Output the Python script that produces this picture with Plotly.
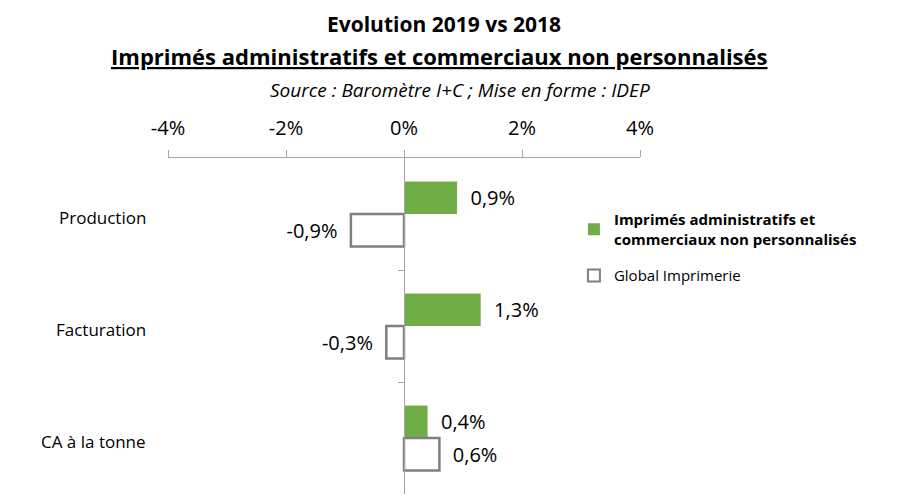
import plotly.graph_objects as go

categories = ["Production", "Facturation", "CA à la tonne"]
series_names = ["<b>Imprimés administratifs et<br>commerciaux non personnalisés</b>", "Global Imprimerie"]
imprimes = [0.9, 1.3, 0.4]
global_imp = [-0.9, -0.3, 0.6]
x_ticks = [-4, -2, 0, 2, 4]

FONT = "Open Sans"

def fmt(v):
    s = f"{v:.1f}%".replace(".", ",")
    return "  " + s if v >= 0 else s + "  "

ypos = list(range(len(categories)))

fig = go.Figure()
fig.add_trace(go.Bar(
    y=ypos, x=imprimes, orientation="h", name=series_names[0], legendgroup="a",
    marker=dict(color="#70AD47", line=dict(color="#70AD47", width=0)),
    text=[fmt(v) for v in imprimes], textposition="outside",
    textfont=dict(size=20, color="#000000", family=FONT), cliponaxis=False,
))
fig.add_trace(go.Bar(
    y=ypos, x=global_imp, orientation="h", name=series_names[1], legendgroup="b",
    marker=dict(color="#FFFFFF", line=dict(color="#7F7F7F", width=2.5)),
    text=[fmt(v) for v in global_imp], textposition="outside",
    textfont=dict(size=20, color="#000000", family=FONT), cliponaxis=False,
))

fig.update_layout(
    width=891, height=488,
    margin=dict(l=160, r=259, t=150, b=2),
    plot_bgcolor="white", paper_bgcolor="white",
    font=dict(family=FONT, color="#000000"),
    barmode="group", bargap=0.42, bargroupgap=0,
    showlegend=True,
    legend=dict(x=0.86, y=0.865, xanchor="left", yanchor="top",
                font=dict(size=15, color="#000000", family=FONT),
                tracegroupgap=14, itemsizing="constant"),
    xaxis=dict(side="top", range=[-4, 4], tickvals=x_ticks,
               ticktext=[f"{t}%" for t in x_ticks],
               showline=True, linecolor="#A6A6A6", linewidth=1,
               ticks="outside", ticklen=7, tickcolor="#A6A6A6",
               ticklabelstandoff=7,
               tickfont=dict(size=20, family=FONT),
               showgrid=False, zeroline=False),
    yaxis=dict(range=[2.5, -0.5], anchor="free", position=0.5,
               showline=True, linecolor="#A6A6A6", linewidth=1,
               tickvals=[0.5, 1.5], ticks="outside", ticklen=6, tickcolor="#A6A6A6",
               showticklabels=False, showgrid=False, zeroline=False),
)

for i, c in enumerate(categories):
    fig.add_annotation(x=-0.042, xref="paper", y=i, yref="y", yshift=-3, text=c,
                       showarrow=False, xanchor="right",
                       font=dict(size=17, color="#000000", family=FONT))
fig.add_annotation(x=0.585, xref="paper", y=1, yref="paper", yshift=134, yanchor="middle",
                   text="<b>Evolution 2019 vs 2018</b>", showarrow=False,
                   font=dict(size=21, family=FONT))
fig.add_annotation(x=0.576, xref="paper", y=1, yref="paper", yshift=102, yanchor="middle",
                   text="<b><u>Imprimés administratifs et commerciaux non personnalisés</u></b>",
                   showarrow=False, font=dict(size=22, family=FONT))
fig.add_annotation(x=0.619, xref="paper", y=1, yref="paper", yshift=68, yanchor="middle",
                   text="<i>Source : Baromètre I+C ; Mise en forme : IDEP</i>",
                   showarrow=False, font=dict(size=19, family=FONT))

fig.write_html("out.html")
